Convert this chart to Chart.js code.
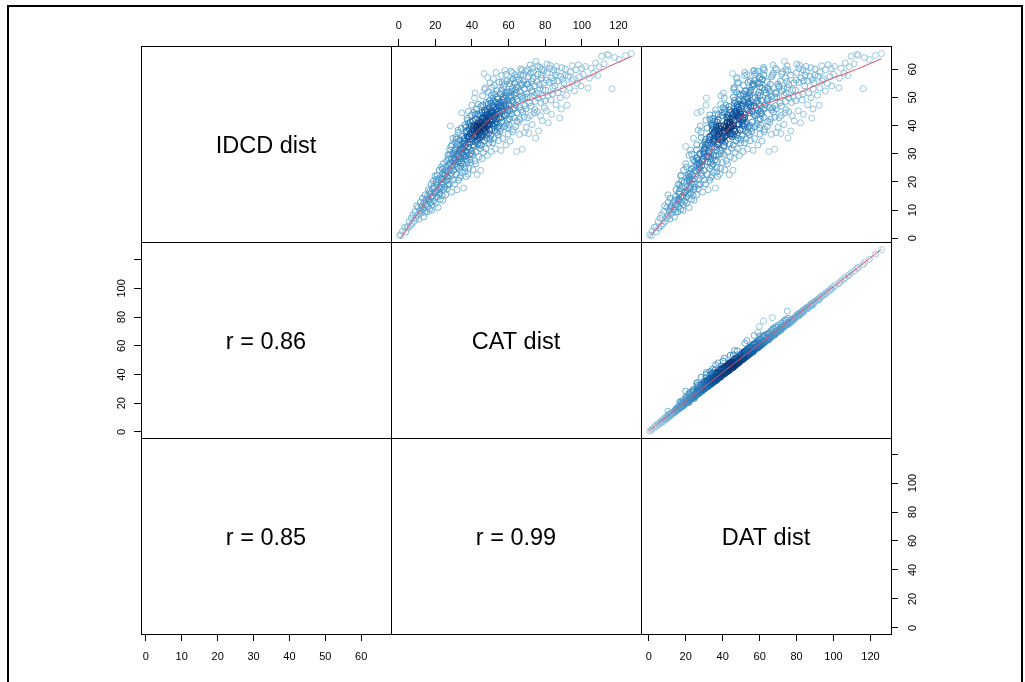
<!DOCTYPE html>
<html>
<head>
<meta charset="utf-8">
<script src="https://cdn.jsdelivr.net/npm/chart.js@4.4.1/dist/chart.umd.min.js"></script>
<style>
html, body { margin: 0; padding: 0; background: #fff; overflow: hidden; }
#frame { position: absolute; left: 7px; top: 5px; width: 1012px; height: 700px; border: 2px solid #000; }
#chart { position: absolute; left: 0; top: 0; }
</style>
</head>
<body>
<div id="frame"></div>
<canvas id="chart" width="1025" height="682"></canvas>
<script>
var catDist = [
    0.6, 1.2, 2.1, 3.3, 3.9, 4.6,
    5.2, 5.8, 6.4, 6.9, 7.3, 7.8, 8.4, 8.9, 9.3, 9.8,
    10.2, 10.6, 11.1, 11.5, 11.9, 12.3, 12.6, 12.9, 13.3, 13.6, 13.9, 14.2, 14.4, 14.7, 14.9, 12.0,
    15.2, 15.5, 15.8, 16.1, 16.3, 16.6, 16.9, 17.2, 17.4, 17.7, 17.9, 18.2, 18.4, 18.6, 18.9, 19.1, 19.3, 19.6, 19.8, 16.0, 17.0, 18.0,
    20.1, 20.3, 20.6, 20.8, 21.0, 21.3, 21.5, 21.8, 22.0, 22.2, 22.5, 22.7, 22.9, 23.1, 23.3, 23.6, 23.8, 24.0, 24.2, 24.4, 24.6, 24.8, 21.1, 22.4, 23.5, 24.1, 20.5, 23.9,
    25.1, 25.3, 25.6, 25.8, 26.0, 26.2, 26.5, 26.7, 26.9, 27.1, 27.3, 27.6, 27.8, 28.0, 28.2, 28.4, 28.7, 28.9, 29.1, 29.3, 29.5, 29.8, 25.5, 26.4, 27.2, 28.1, 28.8, 29.6, 26.8, 27.9, 28.5, 29.9,
    30.1, 30.3, 30.5, 30.8, 31.0, 31.2, 31.4, 31.7, 31.9, 32.1, 32.3, 32.6, 32.8, 33.0, 33.2, 33.5, 33.7, 33.9, 34.1, 34.3, 34.6, 34.8, 30.6, 31.3, 32.0, 32.7, 33.4, 34.0, 34.7, 30.9, 31.8, 32.4, 33.1, 33.8, 34.4, 30.2, 31.5, 32.9, 33.6, 34.9,
    35.1, 35.3, 35.5, 35.7, 35.9, 36.1, 36.3, 36.5, 36.7, 36.9, 37.1, 37.3, 37.5, 37.7, 37.9, 38.1, 38.3, 38.5, 38.7, 38.9, 39.1, 39.3, 39.5, 39.7, 39.9, 35.4, 35.8, 36.2, 36.6, 37.0, 37.4, 37.8, 38.2, 38.6, 39.0, 39.4, 39.8, 35.6, 36.4, 37.2, 38.0, 38.8, 39.6, 36.0, 37.6, 38.4, 39.2, 36.8,
    40.1, 40.3, 40.4, 40.6, 40.8, 40.9, 41.1, 41.2, 41.4, 41.6, 41.7, 41.9, 42.0, 42.2, 42.3, 42.5, 42.6, 42.8, 42.9, 43.1, 43.2, 43.4, 43.5, 43.7, 43.8, 44.0, 44.1, 44.3, 44.4, 44.6, 44.8, 44.9, 40.2, 40.7, 41.0, 41.5, 41.8, 42.1, 42.4, 42.7, 43.0, 43.3, 43.6, 43.9, 44.2, 44.5, 44.7, 40.5, 41.3, 42.0, 42.9, 43.6, 44.3, 44.8, 41.7,
    45.1, 45.2, 45.4, 45.5, 45.7, 45.8, 46.0, 46.1, 46.3, 46.4, 46.6, 46.7, 46.9, 47.0, 47.2, 47.3, 47.5, 47.6, 47.8, 47.9, 48.1, 48.2, 48.4, 48.5, 48.7, 48.8, 49.0, 49.1, 49.3, 49.4, 49.6, 49.7, 49.9, 45.3, 45.9, 46.2, 46.8, 47.1, 47.4, 47.7, 48.0, 48.3, 48.6, 48.9, 49.2, 49.5, 49.8, 45.6, 46.5, 47.4, 48.2, 49.0, 49.6, 46.9, 48.6,
    50.1, 50.2, 50.4, 50.5, 50.7, 50.8, 51.0, 51.1, 51.3, 51.4, 51.6, 51.7, 51.9, 52.0, 52.2, 52.3, 52.5, 52.6, 52.8, 52.9, 53.1, 53.2, 53.4, 53.5, 53.7, 53.8, 54.0, 54.1, 54.3, 54.4, 54.6, 54.7, 54.9, 50.3, 50.9, 51.5, 52.1, 52.7, 53.3, 53.9, 54.5, 50.6, 51.2, 51.8, 52.4, 53.0, 53.6, 54.2, 54.8, 52.2,
    55.1, 55.3, 55.5, 55.8, 56.0, 56.2, 56.4, 56.7, 56.9, 57.1, 57.3, 57.6, 57.8, 58.0, 58.2, 58.5, 58.7, 58.9, 59.1, 59.4, 59.6, 59.8, 55.2, 55.7, 56.1, 56.6, 57.0, 57.5, 57.9, 58.4, 58.8, 59.3, 59.7, 55.6, 56.5, 57.4, 58.3, 59.2, 55.9, 57.7, 58.6, 59.5,
    60.1, 60.3, 60.6, 60.8, 61.1, 61.3, 61.6, 61.8, 62.1, 62.3, 62.6, 62.8, 63.1, 63.3, 63.6, 63.8, 64.1, 64.3, 64.6, 64.8, 60.2, 60.7, 61.2, 61.7, 62.2, 62.7, 63.2, 63.7, 64.2, 64.7, 60.5, 61.5, 62.5, 63.5, 64.5, 62.0,
    65.1, 65.4, 65.7, 66.0, 66.3, 66.6, 66.9, 67.2, 67.5, 67.8, 68.1, 68.4, 68.7, 69.0, 69.3, 69.6, 69.9, 65.3, 65.9, 66.5, 67.1, 67.7, 68.3, 68.9, 69.5, 66.2, 67.4, 68.6, 69.8, 66.8,
    70.1, 70.4, 70.8, 71.1, 71.5, 71.8, 72.2, 72.5, 72.9, 73.2, 73.6, 73.9, 74.3, 74.6, 74.9, 70.6, 71.3, 72.0, 72.7, 73.4, 74.1, 74.8, 71.9, 73.0, 74.4, 70.3,
    75.2, 75.6, 76.0, 76.4, 76.8, 77.2, 77.6, 78.0, 78.4, 78.8, 79.2, 79.6, 75.4, 76.2, 77.0, 77.8, 78.6, 79.4, 75.9, 77.4, 78.2, 79.8,
    80.2, 80.7, 81.2, 81.7, 82.2, 82.7, 83.2, 83.7, 84.2, 84.7, 80.5, 81.5, 82.5, 83.5, 84.5, 81.0, 83.9,
    85.3, 85.9, 86.5, 87.1, 87.9, 88.5, 89.1, 89.7, 85.6, 86.8, 88.2, 89.4, 86.2, 88.8,
    90.3, 91.0, 91.7, 92.0, 92.6, 93.3, 93.9, 94.5, 90.8, 94.8,
    95.3, 96.0, 96.8, 97.4, 98.1, 98.8, 99.5, 99.9,
    100.8, 101.9, 103.3, 104.1, 105.2, 106.4, 107.5, 108.6, 109.4,
    110.8, 112.1, 113.8, 114.6, 116.5, 117.9, 120.3, 123.8, 127.0
];
var idcdDist = [
    1.2, 0.9, 2.5, 3.9, 2.2, 4.1,
    3.6, 5.9, 4.4, 7.1, 5.2, 8.3, 6.0, 9.4, 7.2, 11.5,
    8.1, 10.9, 6.8, 9.7, 12.8, 8.9, 11.4, 14.2, 10.1, 7.6, 12.6, 9.3, 15.4, 11.8, 13.6, 10.4,
    12.1, 9.4, 14.9, 11.2, 17.3, 13.5, 10.3, 15.8, 12.7, 19.2, 14.6, 11.8, 17.6, 15.1, 20.3, 13.2, 18.4, 16.2, 22.1, 14.0, 16.6, 9.9,
    16.3, 12.4, 19.8, 14.7, 22.4, 17.1, 10.9, 20.5, 15.6, 24.2, 18.3, 13.8, 21.6, 17.9, 25.3, 19.4, 15.1, 23.0, 20.8, 26.5, 17.4, 22.3, 18.9, 16.0, 21.1, 13.5, 20.9, 24.6,
    18.2, 22.6, 15.4, 25.1, 20.3, 27.4, 17.6, 23.8, 29.5, 21.2, 26.0, 19.1, 31.3, 24.4, 39.9, 22.0, 27.9, 16.4, 33.2, 25.6, 30.1, 20.7, 24.0, 21.9, 28.3, 26.8, 23.1, 35.5, 18.9, 29.9, 32.6, 27.2,
    24.1, 28.6, 19.3, 31.2, 26.4, 35.8, 22.7, 29.9, 17.2, 33.4, 27.1, 37.6, 24.8, 30.7, 21.5, 34.9, 28.2, 25.6, 39.1, 31.8, 23.4, 36.2, 27.7, 32.5, 29.3, 20.6, 33.0, 26.9, 30.4, 34.1, 25.3, 38.4, 28.9, 22.2, 44.5, 30.0, 35.2, 27.5, 31.4, 33.7,
    26.3, 31.8, 17.8, 35.4, 28.9, 40.2, 23.6, 33.1, 37.7, 21.9, 30.4, 42.6, 27.2, 35.9, 32.3, 45.1, 24.8, 38.6, 29.7, 34.2, 41.3, 26.9, 36.8, 31.1, 47.3, 29.5, 33.7, 25.1, 39.4, 28.1, 36.3, 22.7, 40.7, 33.6, 37.2, 30.2, 43.8, 34.6, 30.9, 38.1, 35.3, 27.8, 39.8, 32.4, 41.9, 36.1, 34.9, 29.3,
    35.2, 29.8, 41.6, 24.3, 38.4, 44.7, 32.6, 36.9, 49.8, 27.5, 39.7, 34.1, 42.3, 37.8, 30.7, 45.9, 38.9, 22.6, 36.2, 40.8, 33.4, 47.6, 37.3, 28.9, 41.5, 35.7, 39.2, 43.6, 31.9, 38.0, 24.1, 36.6, 37.4, 33.2, 40.1, 36.0, 43.9, 26.4, 39.5, 34.8, 38.6, 44.2, 35.0, 40.3, 37.1, 33.0, 41.0, 39.0, 38.3, 36.4, 39.9, 38.2, 40.0, 46.8, 51.6,
    39.4, 33.1, 44.8, 28.3, 41.2, 50.6, 36.7, 42.9, 30.5, 38.8, 58.5, 45.6, 34.6, 40.3, 53.4, 37.9, 43.7, 31.8, 48.2, 39.6, 42.1, 35.5, 29.4, 44.9, 40.7, 51.9, 37.2, 43.3, 33.8, 46.4, 41.8, 38.5, 55.2, 36.0, 47.3, 40.0, 42.6, 38.1, 45.1, 41.4, 36.9, 43.9, 39.9, 47.7, 40.4, 44.1, 35.1, 42.5, 39.2, 41.9, 45.6, 42.8, 48.9, 52.8, 57.1,
    43.2, 36.4, 47.9, 30.8, 41.5, 53.6, 38.7, 45.2, 33.9, 49.8, 42.0, 56.7, 39.8, 46.6, 35.3, 43.9, 51.2, 40.6, 48.3, 31.7, 44.7, 58.9, 42.4, 37.6, 46.1, 52.4, 39.3, 44.0, 49.5, 34.7, 42.8, 55.4, 40.1, 45.0, 40.5, 47.1, 42.9, 45.7, 41.1, 47.6, 45.3, 50.8, 44.4, 48.7, 38.2, 43.6, 50.1, 36.8, 47.0, 54.3,
    44.6, 37.9, 51.3, 31.2, 47.2, 57.8, 41.3, 49.0, 35.4, 45.8, 53.9, 39.6, 48.4, 59.6, 43.5, 33.1, 50.7, 46.3, 55.9, 41.9, 48.9, 37.0, 48.1, 42.7, 52.6, 45.1, 50.2, 43.9, 54.8, 47.5, 40.7, 52.0, 45.4, 39.0, 55.3, 47.0, 51.6, 44.3, 46.5, 49.6, 58.2, 39.2,
    47.8, 40.2, 54.9, 34.5, 50.6, 59.4, 44.1, 52.3, 37.8, 48.5, 56.6, 42.9, 51.0, 46.2, 58.1, 39.7, 53.8, 30.8, 49.3, 44.6, 51.8, 45.3, 56.0, 48.9, 53.4, 38.6, 55.1, 47.4, 51.7, 57.3, 42.4, 49.9, 45.8, 52.7, 41.6, 58.8,
    48.6, 41.2, 56.3, 36.9, 52.1, 60.2, 45.5, 54.4, 31.6, 49.7, 58.0, 43.0, 52.9, 47.1, 59.3, 39.4, 54.7, 53.5, 46.4, 57.9, 50.5, 44.8, 55.6, 50.0, 45.9, 42.3, 59.7, 37.5, 51.4, 55.0,
    50.2, 42.8, 57.4, 37.2, 53.6, 61.5, 46.9, 55.8, 40.4, 51.9, 59.1, 44.5, 54.2, 48.6, 62.8, 54.8, 48.1, 58.6, 52.4, 56.7, 50.8, 35.6, 43.6, 60.4, 45.7, 59.9,
    51.5, 44.9, 58.3, 38.1, 54.6, 60.7, 48.2, 56.9, 41.7, 52.7, 59.5, 46.3, 55.7, 49.8, 53.1, 58.0, 50.4, 55.2, 61.2, 43.5, 60.0, 48.8,
    52.6, 45.3, 58.9, 41.0, 55.4, 61.4, 49.1, 57.0, 53.5, 59.8, 56.2, 50.7, 60.3, 44.0, 55.9, 61.9, 51.2,
    54.1, 47.4, 59.2, 51.6, 42.7, 57.5, 60.6, 53.0, 58.0, 55.8, 49.9, 56.4, 61.0, 45.9,
    55.2, 60.1, 50.8, 47.2, 57.6, 53.4, 59.0, 55.9, 57.9, 61.3,
    56.6, 52.3, 59.9, 55.0, 61.6, 57.4, 54.1, 60.3,
    58.2, 61.0, 53.4, 56.9, 60.4, 58.6, 62.3, 57.8, 60.9,
    64.7, 62.0, 65.3, 65.0, 53.1, 64.2, 63.5, 64.9, 65.6
];
var datDist = [
    0.5, 1.4, 1.8, 3.0, 4.1, 3.9,
    5.4, 5.1, 6.8, 6.2, 7.9, 7.0, 8.9, 8.1, 9.8, 8.6,
    10.6, 9.8, 11.5, 11.2, 10.5, 12.6, 12.1, 11.6, 13.5, 13.9, 13.2, 14.6, 10.4, 14.4, 14.1, 11.7,
    15.0, 15.8, 14.6, 16.3, 14.8, 16.2, 17.3, 16.4, 17.6, 15.9, 17.5, 18.6, 17.1, 18.4, 17.9, 19.5, 18.0, 19.4, 17.2, 16.2, 16.5, 18.5,
    19.8, 20.6, 19.1, 20.4, 17.6, 21.0, 21.9, 20.6, 21.7, 18.9, 22.1, 23.0, 21.8, 22.7, 20.4, 23.1, 24.0, 22.4, 23.6, 20.0, 24.4, 23.5, 16.8, 22.6, 24.8, 24.5, 21.9, 22.9,
    24.8, 21.3, 25.9, 24.3, 22.1, 24.9, 26.8, 25.9, 21.8, 27.0, 26.1, 27.9, 22.6, 27.2, 27.9, 28.6, 24.1, 29.2, 26.0, 28.7, 27.6, 30.1, 25.0, 21.9, 25.8, 27.5, 28.4, 24.2, 26.9, 23.2, 20.0, 28.8,
    29.8, 26.1, 30.7, 30.0, 27.2, 28.4, 31.8, 27.9, 32.2, 30.9, 32.0, 28.3, 33.1, 29.4, 33.6, 32.7, 29.6, 34.2, 31.5, 30.2, 35.0, 32.9, 26.8, 30.5, 31.4, 32.9, 29.1, 33.3, 34.0, 30.3, 27.5, 26.7, 32.4, 34.1, 26.2, 29.9, 30.8, 28.7, 25.9, 34.1,
    34.8, 30.2, 36.1, 34.9, 31.6, 34.3, 36.9, 32.0, 35.4, 37.3, 32.9, 34.6, 37.1, 33.1, 37.0, 28.3, 38.9, 34.4, 38.1, 35.2, 37.0, 39.8, 34.1, 39.0, 31.0, 35.0, 31.9, 36.7, 34.9, 33.5, 36.0, 38.3, 33.8, 37.5, 35.1, 39.1, 33.1, 35.3, 32.6, 36.0, 37.4, 35.9, 38.0, 35.6, 30.9, 37.6, 35.6, 36.5,
    39.6, 40.5, 35.8, 41.2, 37.1, 39.8, 40.7, 37.9, 31.2, 42.0, 36.6, 41.3, 33.1, 38.6, 42.8, 41.2, 38.4, 43.5, 39.5, 42.4, 43.6, 38.9, 43.0, 44.1, 34.6, 40.2, 43.8, 39.7, 44.8, 41.1, 45.6, 44.3, 39.7, 37.2, 34.5, 41.0, 37.6, 42.6, 41.6, 38.9, 42.7, 36.0, 40.1, 43.1, 43.9, 40.8, 44.0, 36.9, 40.9, 41.7, 39.0, 42.9, 40.5, 43.5, 40.4,
    44.6, 45.7, 41.0, 46.1, 42.3, 39.1, 45.8, 42.2, 46.9, 46.0, 45.3, 36.2, 47.2, 43.4, 46.0, 46.9, 43.1, 48.1, 47.0, 44.2, 37.6, 48.4, 49.0, 44.8, 48.2, 47.5, 45.3, 48.4, 49.6, 40.2, 45.9, 49.5, 48.6, 45.0, 41.8, 45.9, 43.0, 46.7, 46.4, 43.9, 47.8, 47.6, 44.7, 48.1, 48.8, 45.4, 49.9, 45.1, 42.9, 46.9, 43.8, 48.5, 48.9, 46.0, 47.7,
    49.6, 50.5, 46.2, 51.0, 50.2, 46.4, 50.8, 47.5, 51.8, 40.9, 51.0, 47.6, 51.5, 48.3, 52.6, 51.8, 48.9, 52.2, 52.1, 53.4, 49.2, 52.0, 44.1, 53.7, 50.1, 52.9, 53.8, 49.8, 53.6, 54.9, 50.7, 53.8, 54.6, 46.9, 50.6, 47.8, 51.7, 48.8, 52.9, 50.2, 53.9, 49.7, 47.3, 51.0, 52.3, 49.0, 45.8, 54.4, 50.6, 51.3,
    54.5, 55.6, 51.2, 56.5, 55.3, 51.9, 56.0, 46.4, 57.3, 53.0, 56.2, 57.4, 53.6, 56.8, 57.8, 59.1, 54.4, 58.2, 55.0, 59.3, 58.8, 60.2, 54.6, 51.8, 55.0, 56.1, 52.9, 57.1, 56.7, 54.2, 58.6, 55.1, 59.0, 55.5, 47.9, 56.8, 54.3, 58.7, 55.2, 53.5, 57.3, 59.8,
    59.4, 60.5, 56.2, 61.3, 60.2, 56.8, 61.2, 52.0, 62.5, 58.4, 61.4, 62.4, 59.0, 62.9, 53.1, 64.2, 60.1, 65.0, 63.9, 60.6, 59.6, 60.4, 57.3, 61.0, 61.3, 62.9, 58.8, 63.0, 63.4, 60.2, 60.3, 57.6, 62.0, 62.8, 64.3, 57.9,
    64.3, 65.5, 61.4, 66.4, 65.4, 62.0, 66.5, 57.0, 68.1, 64.5, 66.9, 68.2, 64.9, 68.5, 59.0, 69.9, 65.8, 64.5, 65.4, 62.3, 66.4, 67.5, 64.1, 68.1, 69.0, 66.0, 62.6, 68.9, 68.8, 60.1,
    69.3, 70.6, 66.5, 71.6, 70.5, 67.3, 71.8, 71.3, 73.2, 69.0, 72.4, 73.7, 70.2, 74.1, 73.4, 69.8, 71.0, 67.4, 71.9, 59.9, 73.3, 75.3, 71.7, 68.5, 74.2, 69.1,
    74.4, 75.7, 71.9, 76.9, 75.7, 62.1, 77.3, 74.0, 78.8, 77.9, 75.3, 66.9, 74.7, 75.9, 73.1, 76.7, 78.1, 78.6, 74.9, 77.6, 74.2, 79.5,
    79.4, 80.9, 80.0, 82.1, 81.2, 81.6, 82.9, 82.5, 75.0, 83.6, 79.7, 81.1, 81.3, 83.7, 83.7, 80.1, 83.3,
    84.4, 86.0, 85.3, 86.6, 88.2, 87.4, 87.9, 89.0, 84.6, 85.9, 87.8, 88.5, 85.1, 88.9,
    89.5, 89.9, 91.3, 92.2, 91.6, 92.5, 92.8, 93.8, 89.8, 93.6,
    94.5, 95.6, 95.7, 96.8, 97.0, 98.1, 99.0, 98.7,
    100.0, 100.6, 102.9, 103.2, 104.1, 105.6, 106.3, 107.9, 108.5,
    109.5, 111.2, 112.6, 113.4, 116.0, 116.8, 119.4, 122.7, 126.0
];

// smoother lines
var smoothCatX = [0.9, 13.3, 22.4, 31.5, 40.6, 49.7, 58.8, 69.7, 80.7, 91.6, 102.5, 113.4, 127.1];
var smoothCatIdcd = [0.0, 11.4, 19.1, 28.0, 36.3, 42.2, 45.8, 48.8, 51.1, 53.9, 57.1, 60.6, 64.6];
var smoothDatX = [0.5, 7.8, 15.0, 24.0, 33.0, 42.1, 51.1, 60.1, 70.9, 83.5, 98.0, 112.4, 126.0];
var smoothDatIdcd = [0.7, 6.0, 12.6, 20.9, 30.4, 38.1, 43.4, 47.0, 49.4, 52.3, 56.5, 60.0, 63.8];
var smoothDatX2 = [0.5, 20, 40, 60, 80, 100, 126];
var smoothDatCat = [1.0, 21.2, 41.5, 61.4, 81.3, 101.2, 127.4];

var varNames = ['IDCD dist', 'CAT dist', 'DAT dist'];
var corrLabels = ['r = 0.86', 'r = 0.85', 'r = 0.99'];

var idcdTicks = [0, 10, 20, 30, 40, 50, 60];
var idcdLabels = ['0', '10', '20', '30', '40', '50', '60'];
var kmTicks = [0, 20, 40, 60, 80, 100, 120];
var kmLabels = ['0', '20', '40', '60', '80', '100', '120'];
var kmSideLabels = ['0', '20', '40', '60', '80', '100', ''];

var idcdRange = [-1.35, 68.3];
var catRange = [-4.2, 132.3];
var datRange = [-4.2, 131.1];

var fontFamily = "'Liberation Sans', Arial, Helvetica, sans-serif";
var tickFont = { family: fontFamily, size: 11 };
var blues = ['#9ECAE1', '#6BAED6', '#4292C6', '#2171B5', '#08519C', '#08306B'];

function textWidth(t) {
    var c = document.createElement('canvas').getContext('2d');
    c.font = '11px ' + fontFamily;
    return c.measureText(t).width;
}

function hex(h) {
    return [parseInt(h.substr(1, 2), 16), parseInt(h.substr(3, 2), 16), parseInt(h.substr(5, 2), 16)];
}

function ramp(t) {
    var p = t * (blues.length - 1);
    var i = Math.min(Math.floor(p), blues.length - 2);
    var f = p - i;
    var a = hex(blues[i]), b = hex(blues[i + 1]);
    return 'rgb(' + Math.round(a[0] + (b[0] - a[0]) * f) + ',' + Math.round(a[1] + (b[1] - a[1]) * f) + ',' + Math.round(a[2] + (b[2] - a[2]) * f) + ')';
}

function quantile(v, p) {
    var s = v.slice().sort(function (a, b) { return a - b; });
    var h = (s.length - 1) * p, lo = Math.floor(h);
    return s[lo] + (s[Math.min(lo + 1, s.length - 1)] - s[lo]) * (h - lo);
}

// colour by local density, like densCols()
function densCols(xs, ys) {
    var bx = (quantile(xs, 0.95) - quantile(xs, 0.05)) / 18;
    var by = (quantile(ys, 0.95) - quantile(ys, 0.05)) / 18;
    var dens = xs.map(function (x, i) {
        var s = 0;
        for (var j = 0; j < xs.length; j++) {
            var u = (xs[j] - x) / bx, w = (ys[j] - ys[i]) / by;
            s += Math.exp(-0.5 * (u * u + w * w));
        }
        return s;
    });
    var lo = Math.min.apply(null, dens), hi = Math.max.apply(null, dens);
    return dens.map(function (d) { return ramp(Math.pow((d - lo) / (hi - lo), 1.4)); });
}

function pts(xs, ys) {
    return xs.map(function (x, i) { return { x: x, y: ys[i] }; });
}

function scatterSet(xs, ys, xId, yId) {
    return {
        data: pts(xs, ys), xAxisID: xId, yAxisID: yId, order: 1,
        pointRadius: 3, pointBorderWidth: 1,
        pointBackgroundColor: 'rgba(0,0,0,0)', pointBorderColor: densCols(xs, ys)
    };
}

function smoothSet(xs, ys, xId, yId) {
    return {
        data: pts(xs, ys), xAxisID: xId, yAxisID: yId, order: 0,
        showLine: true, pointRadius: 0, borderColor: '#DF536B', borderWidth: 1,
        cubicInterpolationMode: 'monotone'
    };
}

function axis(pos, weight, range, ticks, labels, size, pad) {
    var vertical = pos === 'left' || pos === 'right';
    return {
        type: 'linear', position: pos, stack: 'grid', weight: weight,
        min: range[0], max: range[1],
        afterBuildTicks: function (s) { s.ticks = ticks.map(function (v) { return { value: v }; }); },
        afterFit: function (s) { if (vertical) { s.width = size; } else { s.height = size; } },
        border: { display: false },
        grid: { drawOnChartArea: false, drawTicks: true, tickLength: 7, tickColor: '#000', tickWidth: 1 },
        ticks: {
            autoSkip: false, color: '#000', font: tickFont, padding: pad,
            minRotation: vertical ? 90 : 0, maxRotation: vertical ? 90 : 0,
            crossAlign: vertical ? 'center' : 'near',
            callback: function (v, i) { return labels[i]; }
        }
    };
}

function blank(pos, weight, size) {
    var vertical = pos === 'left' || pos === 'right';
    return {
        type: 'linear', position: pos, stack: 'grid', weight: weight, min: 0, max: 1,
        afterFit: function (s) { if (vertical) { s.width = size; } else { s.height = size; } },
        border: { display: false }, grid: { display: false }, ticks: { display: false }
    };
}

var w100 = textWidth('100'), w60 = textWidth('60');

var panels = {
    id: 'panels',
    afterDatasetsDraw: function (chart) {
        var ctx = chart.ctx, s = chart.scales;
        var cols = [s.xIdcd, s.xCat, s.xDat], rows = [s.yIdcd, s.yCat, s.yDat];
        ctx.save();
        ctx.strokeStyle = '#000';
        ctx.lineWidth = 1;
        rows.forEach(function (ry) {
            cols.forEach(function (cx) {
                ctx.strokeRect(Math.round(cx.left) + 0.5, Math.round(ry.top) + 0.5,
                    Math.round(cx.right - cx.left), Math.round(ry.bottom - ry.top));
            });
        });
        ctx.font = '23.5px ' + fontFamily;
        ctx.fillStyle = '#000';
        ctx.textAlign = 'center';
        ctx.textBaseline = 'middle';
        function put(text, c, r) {
            ctx.fillText(text, (cols[c].left + cols[c].right) / 2, (rows[r].top + rows[r].bottom) / 2 + 3);
        }
        varNames.forEach(function (t, i) { put(t, i, i); });
        put(corrLabels[0], 0, 1);
        put(corrLabels[1], 0, 2);
        put(corrLabels[2], 1, 2);
        ctx.restore();
    }
};

new Chart(document.getElementById('chart'), {
    type: 'scatter',
    data: {
        datasets: [
            scatterSet(catDist, idcdDist, 'xCat', 'yIdcd'),
            scatterSet(datDist, idcdDist, 'xDat', 'yIdcd'),
            scatterSet(datDist, catDist, 'xDat', 'yCat'),
            smoothSet(smoothCatX, smoothCatIdcd, 'xCat', 'yIdcd'),
            smoothSet(smoothDatX, smoothDatIdcd, 'xDat', 'yIdcd'),
            smoothSet(smoothDatX2, smoothDatCat, 'xDat', 'yCat')
        ]
    },
    options: {
        responsive: false,
        animation: false,
        devicePixelRatio: 1,
        events: [],
        layout: { padding: 0 },
        plugins: { legend: { display: false }, tooltip: { enabled: false } },
        scales: {
            xIdcd: axis('bottom', 1, idcdRange, idcdTicks, idcdLabels, 48, 9.4),
            xBot2: blank('bottom', 2, 48),
            xDat: axis('bottom', 3, datRange, kmTicks, kmLabels, 48, 9.4),
            xTop1: blank('top', 3, 46),
            xCat: axis('top', 2, catRange, kmTicks, kmLabels, 46, 6.4),
            xTop3: blank('top', 1, 46),
            yLeft1: blank('left', 3, 141),
            yCat: axis('left', 2, catRange, kmTicks, kmSideLabels, 141, 12 - w100 / 2),
            yLeft3: blank('left', 1, 141),
            yIdcd: axis('right', 1, idcdRange, idcdTicks, idcdLabels, 134, 15 - w60 / 2),
            yRight2: blank('right', 2, 134),
            yDat: axis('right', 3, datRange, kmTicks, kmSideLabels, 134, 15 - w100 / 2)
        }
    },
    plugins: [panels]
});
</script>
</body>
</html>
